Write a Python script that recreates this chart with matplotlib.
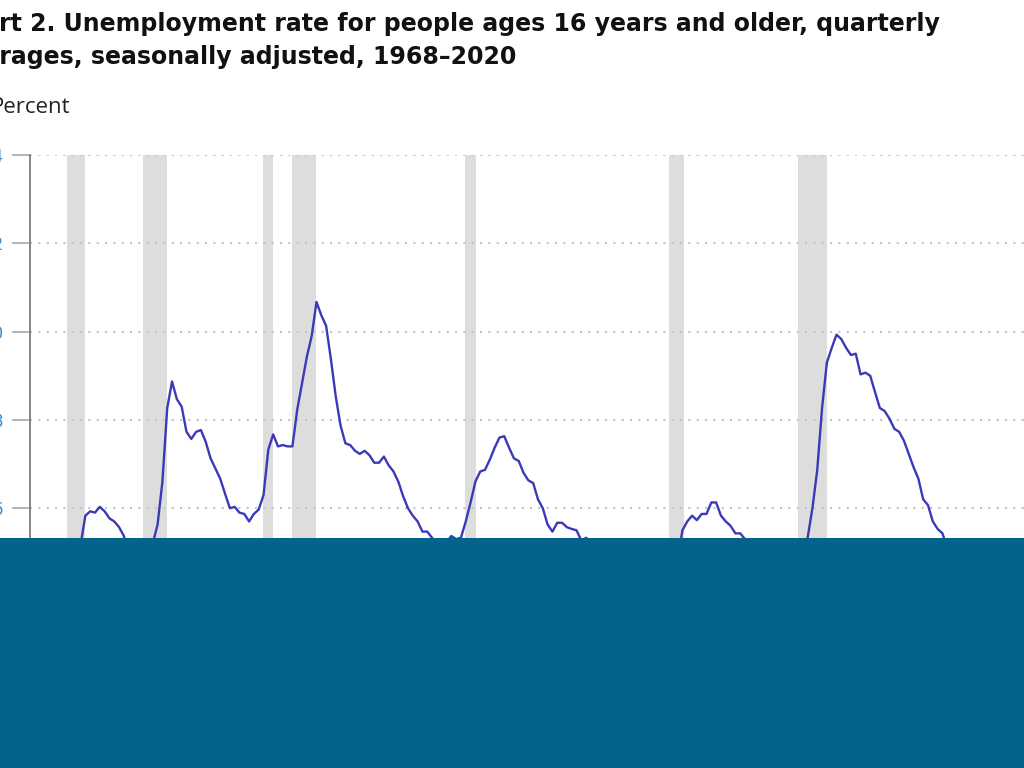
import matplotlib.pyplot as plt
from matplotlib.patches import Rectangle

# quarterly averages, 1968Q1 onward (percent)
start_year = 1968
unemployment_rate = [
    3.73, 3.57, 3.53, 3.40,   # 1968
    3.40, 3.43, 3.57, 3.57,   # 1969
    4.17, 4.77, 5.17, 5.83,   # 1970
    5.93, 5.90, 6.03, 5.93,   # 1971
    5.77, 5.70, 5.57, 5.37,   # 1972
    4.93, 4.93, 4.80, 4.77,   # 1973
    5.13, 5.20, 5.63, 6.60,   # 1974
    8.27, 8.87, 8.47, 8.30,   # 1975
    7.73, 7.57, 7.73, 7.77,   # 1976
    7.50, 7.13, 6.90, 6.67,   # 1977
    6.33, 6.00, 6.03, 5.90,   # 1978
    5.87, 5.70, 5.87, 5.97,   # 1979
    6.30, 7.33, 7.67, 7.40,   # 1980
    7.43, 7.40, 7.40, 8.23,   # 1981
    8.83, 9.43, 9.90, 10.67,  # 1982
    10.37, 10.13, 9.37, 8.53, # 1983
    7.87, 7.47, 7.43, 7.30,   # 1984
    7.23, 7.30, 7.20, 7.03,   # 1985
    7.03, 7.17, 6.97, 6.83,   # 1986
    6.60, 6.27, 6.00, 5.83,   # 1987
    5.70, 5.47, 5.47, 5.33,   # 1988
    5.20, 5.23, 5.23, 5.37,   # 1989
    5.30, 5.33, 5.70, 6.13,   # 1990
    6.60, 6.83, 6.87, 7.10,   # 1991
    7.37, 7.60, 7.63, 7.37,   # 1992
    7.13, 7.07, 6.80, 6.63,   # 1993
    6.57, 6.20, 6.00, 5.63,   # 1994
    5.47, 5.67, 5.67, 5.57,   # 1995
    5.53, 5.50, 5.27, 5.33,   # 1996
    5.23, 5.00, 4.87, 4.67,   # 1997
    4.63, 4.40, 4.53, 4.43,   # 1998
    4.30, 4.27, 4.23, 4.07,   # 1999
    4.03, 3.93, 4.00, 3.90,   # 2000
    4.23, 4.40, 4.83, 5.50,   # 2001
    5.70, 5.83, 5.73, 5.87,   # 2002
    5.87, 6.13, 6.13, 5.83,   # 2003
    5.70, 5.60, 5.43, 5.43,   # 2004
    5.30, 5.10, 4.97, 4.97,   # 2005
    4.73, 4.63, 4.63, 4.43,   # 2006
    4.50, 4.50, 4.67, 4.83,   # 2007
    5.00, 5.33, 6.00, 6.87,   # 2008
    8.27, 9.30, 9.63, 9.93,   # 2009
    9.83, 9.63, 9.47, 9.50,   # 2010
    9.03, 9.07, 9.00, 8.63,   # 2011
    8.27, 8.20, 8.03, 7.80,   # 2012
    7.73, 7.53, 7.23, 6.93,   # 2013
    6.67, 6.20, 6.07, 5.70,   # 2014
    5.53, 5.43, 5.10, 5.00,   # 2015
    4.93, 4.87, 4.93, 4.77,   # 2016
    4.57, 4.37, 4.30, 4.17,   # 2017
    4.03, 3.93, 3.80, 3.80,   # 2018
    3.87, 3.63, 3.63, 3.60,   # 2019
    3.83, 13.07, 8.80,        # 2020
]

# recessions (decimal years, start / end)
rec_start = [1969.92, 1973.87, 1980.08, 1981.6, 1990.58, 2001.17, 2007.85, 2020.08]
rec_end = [1970.88, 1975.13, 1980.6, 1982.87, 1991.17, 2001.95, 2009.38, 2020.33]

y_ticks = [0, 2, 4, 6, 8, 10, 12, 14]

title_1 = "Chart 2. Unemployment rate for people ages 16 years and older, quarterly"
title_2 = "averages, seasonally adjusted, 1968\u20132020"

W, H = 1024, 768
fig = plt.figure(figsize=(W / 100, H / 100), dpi=100)

# axes placed so the chart runs off the left/right/bottom like the screenshot
px_per_year = 19.26
px_per_unit = 44.15
x0, x1 = 1968, 2021
ax_left = 30
ax_top = 155
ax_w = (x1 - x0) * px_per_year
ax_h = 14 * px_per_unit
ax = fig.add_axes([ax_left / W, (H - ax_top - ax_h) / H, ax_w / W, ax_h / H])

x = [start_year + (i + 0.5) / 4 for i in range(len(unemployment_rate))]

for s, e in zip(rec_start, rec_end):
    ax.axvspan(s, e, color="#dddddd", lw=0, zorder=0)

ax.plot(x, unemployment_rate, color="#3a3ab8", lw=1.7, zorder=3)

ax.set_xlim(x0, x1)
ax.set_ylim(0, 14)
ax.set_yticks(y_ticks)
ax.set_xticks([])
ax.yaxis.grid(True, linestyle=(0, (1, 3)), color="#c4c4c4", lw=1.5)
ax.set_axisbelow(True)
for sp in ["top", "right", "bottom"]:
    ax.spines[sp].set_visible(False)
ax.spines["left"].set_color("#7d7d7d")
ax.spines["left"].set_linewidth(1.3)
ax.tick_params(axis="y", length=13, width=1.3, color="#a7b0ba", pad=6.5,
               labelsize=12, labelcolor="#3d8ac6")

fig.text(-51 / W, 1 - 31 / H, title_1, fontsize=17, fontweight="bold",
         family="DejaVu Sans", color="#111111", va="baseline")
fig.text(-48 / W, 1 - 64 / H, title_2, fontsize=17, fontweight="bold",
         family="DejaVu Sans", color="#111111", va="baseline")
fig.text(-9 / W, 1 - 113 / H, "Percent", fontsize=16, family="Open Sans",
         color="#222222", va="baseline")

# teal block covering the lower part of the screenshot
fig.add_artist(Rectangle((0, 0), 1, 230 / H, transform=fig.transFigure,
                         facecolor="#03638a", edgecolor="none", zorder=10))

fig.savefig("out.png", dpi=100)
